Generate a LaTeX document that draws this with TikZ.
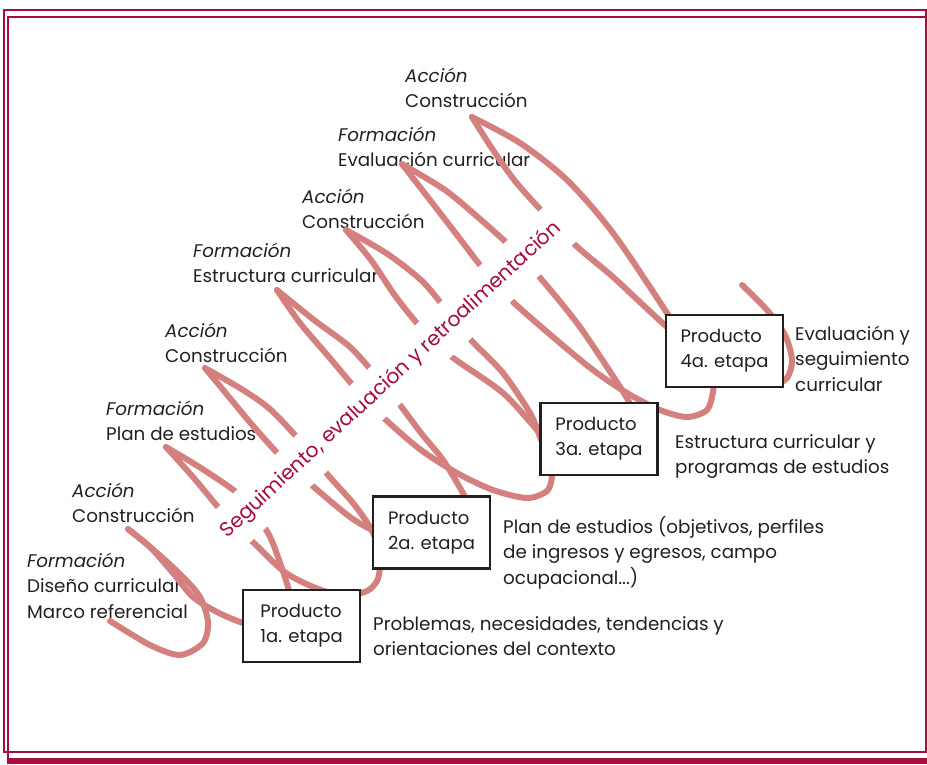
\documentclass[tikz,border=0pt]{standalone}
\usepackage{fontspec}
\setmainfont{Poppins}
\definecolor{frame}{HTML}{A80C3C}
\definecolor{spiral}{HTML}{D4807F}
\definecolor{ink}{HTML}{231F20}
\newcommand{\lineas}[1]{\begin{tabular}[t]{@{}l@{}}#1\end{tabular}}
\tikzstyle{strand}=[draw=spiral, line width=6pt, line cap=round, line join=round]
\tikzstyle{producto}=[draw=ink, fill=white, line width=2.2pt, minimum width=117pt, minimum height=72pt, inner sep=0pt, align=left, text=ink, font=\fontsize{18}{25}\selectfont]
\tikzstyle{etiqueta}=[anchor=base west, inner sep=0pt, text=ink, font=\fontsize{18.3}{25.5}\selectfont]
\tikzstyle{marco}=[draw=frame, line width=2pt]

\begin{document}
\begin{tikzpicture}[x=1pt, y=-1pt]
\useasboundingbox (0,0) rectangle (927,764);
% double frame
\draw[marco] (3.5,10) rectangle (926,752);
\draw[marco] (7.5,17) rectangle (940,760);
\fill[frame] (6.5,757.5) rectangle (927,764);

% labels on the left
\node[etiqueta] (f1) at (27,567) {\lineas{\textit{Formación}\\Diseño curricular\\Marco referencial}};
\node[etiqueta] (a1) at (72,497) {\lineas{\textit{Acción}\\Construcción}};
\node[etiqueta] (f2) at (106,415) {\lineas{\textit{Formación}\\Plan de estudios}};
\node[etiqueta] (a2) at (165,337) {\lineas{\textit{Acción}\\Construcción}};
\node[etiqueta] (f3) at (193,257) {\lineas{\textit{Formación}\\Estructura curricular}};
\node[etiqueta] (a3) at (302,203) {\lineas{\textit{Acción}\\Construcción}};
\node[etiqueta] (f4) at (338,141) {\lineas{\textit{Formación}\\Evaluación curricular}};
\node[etiqueta] (a4) at (405,82) {\lineas{\textit{Acción}\\Construcción}};

% tips of the spiral
\coordinate (t1) at (128,529);
\coordinate (t2) at (166,447);
\coordinate (t3) at (205,368);
\coordinate (t4) at (277,290);
\coordinate (t5) at (346,230);
\coordinate (t6) at (402,164);
\coordinate (t7) at (472,117);

% the spiral, strand by strand
\draw[strand] plot[smooth] coordinates {(110,621) (150,645) (180,655) (203,643) (208,622) (200,597) (182,576) (156,552) (t1)};
\draw[strand] plot[smooth] coordinates {(t1) (150,547) (173,573) (193,597) (217,612) (240,622) (260,628)};
\draw[strand] plot[smooth] coordinates {(t2) (204,470) (243,498) (268,533) (279,560) (288,587) (292,605)};
\draw[strand] plot[smooth] coordinates {(t2) (193,477) (225,515) (254,543) (286,573) (321,590) (347,595) (367,591) (377,581) (380,568) (381,555)};
\draw[strand] plot[smooth] coordinates {(t3) (243,390) (271,410) (302,443) (328,475) (353,503) (370,527) (378,545)};
\draw[strand] plot[smooth] coordinates {(t3) (229,397) (254,427) (284,460) (315,488) (350,517) (372,530) (390,538)};
\draw[strand] plot[smooth] coordinates {(t4) (314,320) (350,347) (377,377) (400,405) (421,433) (443,460) (464,495) (470,512)};
\draw[strand] plot[smooth] coordinates {(t4) (300,323) (329,357) (357,390) (386,420) (421,450) (457,473) (493,490) (527,498) (547,491) (552,477) (553,462)};
\draw[strand] plot[smooth] coordinates {(t5) (386,253) (421,280) (445,308) (471,340) (503,373) (530,413) (540,437) (545,450)};
\draw[strand] plot[smooth] coordinates {(t5) (371,260) (396,297) (423,330) (452,357) (503,393) (540,433) (555,445)};
\draw[strand] plot[smooth] coordinates {(t6) (445,190) (480,219) (512,248) (542,280) (577,323) (607,367) (628,400) (633,415)};
\draw[strand] plot[smooth] coordinates {(t6) (430,200) (457,235) (484,270) (511,300) (553,337) (593,370) (627,393) (660,410) (687,417) (707,410) (713,392) (714,375)};
\draw[strand] plot[smooth] coordinates {(t7) (520,143) (567,180) (613,233) (667,313) (680,335)};
\draw[strand] plot[smooth] coordinates {(t7) (493,150) (520,187) (572,242) (613,277) (667,327) (685,338)};
\draw[strand] plot[smooth] coordinates {(742,285) (767,310) (785,335) (792,360) (787,378) (772,385) (752,380)};

% band of text across the spiral
\node[rotate=42.7, fill=white, text=frame, inner xsep=3pt, inner ysep=13pt, font=\fontsize{20.3}{24}\selectfont] (seg) at (391,380) {Seguimiento, evaluación y retroalimentación};

% Now the boxes on top
\node[producto] (p1) at (301.5,626) {Producto\\1a. etapa};
\node[producto] (p2) at (431.5,532.5) {Producto\\2a. etapa};
\node[producto] (p3) at (599,439) {Producto\\3a. etapa};
\node[producto] (p4) at (724.5,351) {Producto\\4a. etapa};

% what each stage gives
\node[etiqueta] (d1) at (373,630) {\lineas{Problemas, necesidades, tendencias y\\orientaciones del contexto}};
\node[etiqueta] (d2) at (503,533) {\lineas{Plan de estudios (objetivos, perfiles\\de ingresos y egresos, campo\\ocupacional...)}};
\node[etiqueta] (d3) at (675,448) {\lineas{Estructura curricular y\\programas de estudios}};
\node[etiqueta] (d4) at (795,340) {\lineas{Evaluación y\\seguimiento\\curricular}};
\end{tikzpicture}
\end{document}
